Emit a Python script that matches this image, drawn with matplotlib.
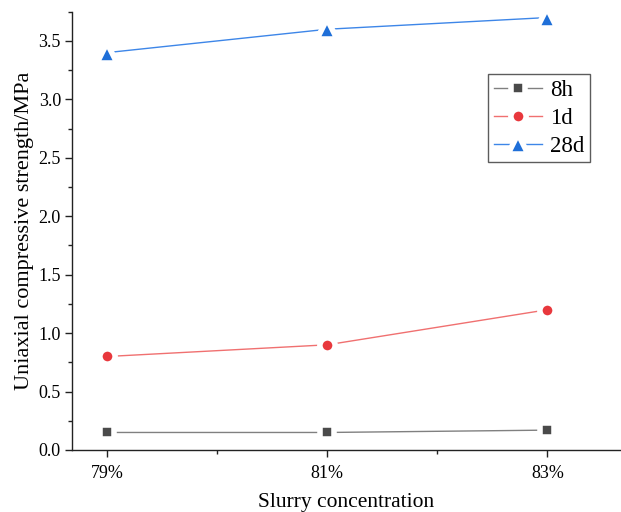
import matplotlib
matplotlib.use("Agg")
import matplotlib.pyplot as plt
from matplotlib.ticker import MultipleLocator, FormatStrFormatter

plt.rcParams['font.family'] = ['Liberation Serif', 'DejaVu Serif']

conc = [79, 81, 83]
conc_labels = ['79%', '81%', '83%']
s8h = [0.15, 0.15, 0.17]
s1d = [0.80, 0.90, 1.20]
s28d = [3.40, 3.60, 3.70]

fig = plt.figure(figsize=(6.21, 5.12), dpi=100)
ax = fig.add_axes([72/621, 62/512, 548/621, 438.3/512])

series = [
    (s8h, '8h', 's', '#4a4a4a', '#808080', 10),
    (s1d, '1d', 'o', '#e8383d', '#f07070', 11),
    (s28d, '28d', '^', '#1f6fd8', '#3d86e8', 15),
]
for vals, lab, mk, mc, lc, ms in series:
    ax.plot(conc, vals, color=lc, lw=1.0, marker=mk, markersize=ms,
            markerfacecolor=mc, markeredgecolor='white', markeredgewidth=4,
            label=lab, zorder=3)

ax.set_xlim(78.68, 83.66)
ax.set_ylim(0, 3.75)
ax.set_xticks(conc)
ax.set_xticklabels(conc_labels)
ax.xaxis.set_minor_locator(MultipleLocator(1))
ax.yaxis.set_major_locator(MultipleLocator(0.5))
ax.yaxis.set_minor_locator(MultipleLocator(0.25))
ax.yaxis.set_major_formatter(FormatStrFormatter('%.1f'))
for s in ['top', 'right']:
    ax.spines[s].set_visible(False)
for s in ['left', 'bottom']:
    ax.spines[s].set_linewidth(1.0)
    ax.spines[s].set_color('#222222')
ax.tick_params(which='major', direction='out', length=5, width=1, labelsize=13, color='#222222')
ax.tick_params(which='minor', direction='out', length=3, width=1, color='#222222')
ax.tick_params(axis='x', which='major', pad=6)
ax.tick_params(axis='y', which='major', pad=3)

ax.set_xlabel('Slurry concentration', fontsize=15.5, labelpad=8)
ax.set_ylabel('Uniaxial compressive strength/MPa', fontsize=16, labelpad=3)

leg = ax.legend(loc='upper right', bbox_to_anchor=(0.945, 0.858), fontsize=16.5,
                frameon=True, fancybox=False, edgecolor='#333333',
                handlelength=2.1, borderpad=0.25, labelspacing=0.3, handletextpad=0.35,
                borderaxespad=0)
leg.get_frame().set_linewidth(1.0)

fig.savefig('out.png', dpi=100)
